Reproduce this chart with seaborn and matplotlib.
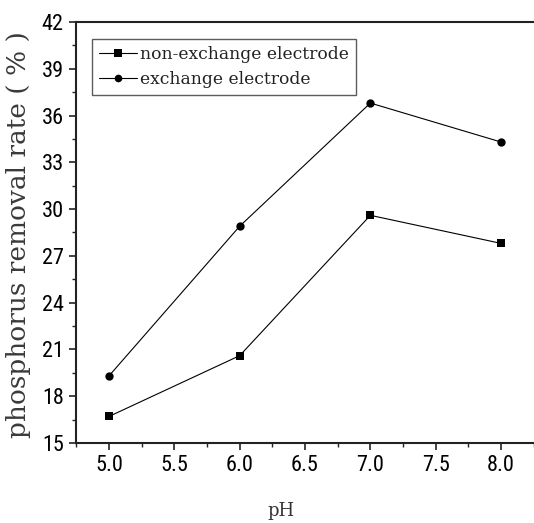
import matplotlib
matplotlib.use("Agg")
import matplotlib.pyplot as plt
from matplotlib import font_manager
from matplotlib.ticker import MultipleLocator
import seaborn as sns
import pandas as pd

# pH values tested and phosphorus removal rate (%) for each electrode type
ph = [5.0, 6.0, 7.0, 8.0]
non_exchange = [16.7, 20.6, 29.6, 27.8]
exchange = [19.3, 28.9, 36.8, 34.3]
series_names = ["non-exchange electrode", "exchange electrode"]
x_ticks = [5.0, 5.5, 6.0, 6.5, 7.0, 7.5, 8.0]
x_tick_labels = ["5.0", "5.5", "6.0", "6.5", "7.0", "7.5", "8.0"]

df = pd.DataFrame({
    "pH": ph * 2,
    "rate": non_exchange + exchange,
    "series": [series_names[0]] * len(ph) + [series_names[1]] * len(ph),
})

sns.set_style("ticks")
serif = ["DejaVu Serif"]

# pick a condensed sans face for the tick numbers if one is available
installed = {f.name for f in font_manager.fontManager.ttflist}
tick_font = {"family": ["Liberation Sans", "DejaVu Sans"], "stretch": "normal", "size": 14.5}
for cand in ["Liberation Sans Narrow", "DejaVu Sans Condensed", "Roboto Condensed"]:
    if cand in installed:
        tick_font = {"family": [cand], "stretch": "normal", "size": 16}
        break
else:
    dv = font_manager.findfont(font_manager.FontProperties(family="DejaVu Sans",
                                                           stretch="condensed"))
    if "Condensed" in dv:
        tick_font = {"family": ["DejaVu Sans"], "stretch": "condensed", "size": 15}

fig = plt.figure(figsize=(5.34, 5.23), dpi=100)
ax = fig.add_axes([0.1429, 0.153, 0.8566, 0.805])

sns.lineplot(
    data=df, x="pH", y="rate", hue="series", style="series",
    palette=["black", "black"], markers={series_names[0]: "s", series_names[1]: "o"},
    dashes=False, markersize=6, markeredgewidth=0, linewidth=0.8,
    ax=ax, legend=True,
)

ax.set_xlim(4.75, 8.25)
ax.set_ylim(15, 42)
ax.set_xticks(x_ticks)
ax.set_xticklabels(x_tick_labels)
ax.xaxis.set_minor_locator(MultipleLocator(0.25))
ax.yaxis.set_major_locator(MultipleLocator(3))
ax.yaxis.set_minor_locator(MultipleLocator(1.5))

ax.tick_params(axis="both", which="major", direction="out", length=5, width=1.2,
               pad=4, colors="#222222")
ax.tick_params(axis="both", which="minor", direction="out", length=3, width=1.0,
               colors="#222222")
for lbl in ax.get_xticklabels() + ax.get_yticklabels():
    lbl.set_fontfamily(tick_font["family"])
    lbl.set_fontstretch(tick_font["stretch"])
    lbl.set_fontsize(tick_font["size"])
    lbl.set_color("black")

for side in ["left", "bottom", "top"]:
    ax.spines[side].set_linewidth(1.5)
    ax.spines[side].set_color("#222222")
ax.spines["right"].set_visible(False)

ax.set_xlabel("pH", fontsize=13, family=serif, color="#333333")
ax.xaxis.set_label_coords((281 - 76.3) / (533.7 - 76.3), -0.14)
ax.set_ylabel("phosphorus removal rate ( % )", fontsize=19, family=serif,
              color="#3a3a3a", fontweight="light")
ax.yaxis.set_label_coords(-0.1, 0.494)

handles, labels = ax.get_legend_handles_labels()
for h in handles:
    h.set_markersize(5.5)
leg = ax.legend(
    handles, labels, loc="upper left",
    bbox_to_anchor=(92 / 534, 1 - 39 / 523), bbox_transform=fig.transFigure,
    borderaxespad=0, frameon=True, fancybox=False, edgecolor="#333333",
    prop={"family": serif, "size": 12.3}, handlelength=2.2, handletextpad=0.2,
    labelspacing=0.45, borderpad=0.42,
)
leg.get_frame().set_linewidth(1.0)
for t in leg.get_texts():
    t.set_color("#222222")

fig.savefig("out.png", dpi=100)
